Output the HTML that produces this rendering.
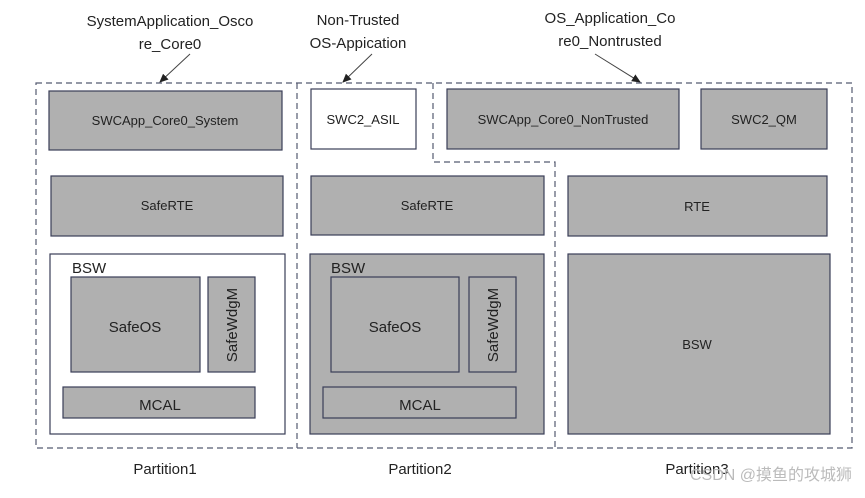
<!DOCTYPE html>
<html><head><meta charset="utf-8"><style>
body{margin:0;background:#fff;}
svg text{font-family:"Liberation Sans","Noto Sans CJK SC",sans-serif;}
</style></head><body>
<svg width="865" height="493" viewBox="0 0 865 493" xmlns="http://www.w3.org/2000/svg">
<defs><marker id="a" markerWidth="10" markerHeight="10" refX="8" refY="5" orient="auto" markerUnits="userSpaceOnUse"><path d="M0,1 L9,5 L0,9z" fill="#222"/></marker></defs>
<g fill="#222" font-size="15" text-anchor="middle">
<text x="170" y="26">SystemApplication_Osco</text><text x="170" y="49">re_Core0</text>
<text x="358" y="25">Non-Trusted</text><text x="358" y="48">OS-Appication</text>
<text x="610" y="23">OS_Application_Co</text><text x="610" y="46">re0_Nontrusted</text>
</g>
<g stroke="#444" stroke-width="1">
<line x1="190" y1="54" x2="160" y2="82" marker-end="url(#a)"/>
<line x1="372" y1="54" x2="343" y2="82" marker-end="url(#a)"/>
<line x1="595" y1="54" x2="640" y2="82" marker-end="url(#a)"/>
</g>
<g fill="none" stroke="#555a70" stroke-width="1.2" stroke-dasharray="6,4">
<rect x="36" y="83" width="816" height="365"/>
<line x1="297" y1="83" x2="297" y2="448"/>
<polyline points="433,83 433,162 555,162 555,448"/>
</g>
<g stroke="#3a3e58" stroke-width="1.2" fill="#b0b0b0">
<rect x="49" y="91" width="233" height="59"/>
<rect x="51" y="176" width="232" height="60"/>
<rect x="50" y="254" width="235" height="180" fill="#fff"/>
<rect x="71" y="277" width="129" height="95"/>
<rect x="208" y="277" width="47" height="95"/>
<rect x="63" y="387" width="192" height="31"/>
<rect x="311" y="89" width="105" height="60" fill="#fff"/>
<rect x="311" y="176" width="233" height="59"/>
<rect x="310" y="254" width="234" height="180"/>
<rect x="331" y="277" width="128" height="95"/>
<rect x="469" y="277" width="47" height="95"/>
<rect x="323" y="387" width="193" height="31"/>
<rect x="447" y="89" width="232" height="60"/>
<rect x="701" y="89" width="126" height="60"/>
<rect x="568" y="176" width="259" height="60"/>
<rect x="568" y="254" width="262" height="180"/>
</g>
<g fill="#222" font-size="13" text-anchor="middle">
<text x="165" y="125">SWCApp_Core0_System</text>
<text x="167" y="210">SafeRTE</text>
<text x="363" y="124">SWC2_ASIL</text>
<text x="427" y="210">SafeRTE</text>
<text x="563" y="124">SWCApp_Core0_NonTrusted</text>
<text x="764" y="124">SWC2_QM</text>
<text x="697" y="211">RTE</text>
<text x="697" y="349">BSW</text>
</g>
<g fill="#222" font-size="15">
<text x="72" y="273">BSW</text><text x="331" y="273">BSW</text>
<g text-anchor="middle">
<text x="135" y="332">SafeOS</text><text x="395" y="332">SafeOS</text>
<text x="160" y="410">MCAL</text><text x="420" y="410">MCAL</text>
<text transform="translate(237,325) rotate(-90)">SafeWdgM</text>
<text transform="translate(498,325) rotate(-90)">SafeWdgM</text>
<text x="165" y="474">Partition1</text>
<text x="420" y="474">Partition2</text>
<text x="697" y="474">Partition3</text>
</g></g>
<text x="852" y="480" text-anchor="end" font-size="16" fill="#bbb">CSDN @摸鱼的攻城狮</text>
</svg>
</body></html>
